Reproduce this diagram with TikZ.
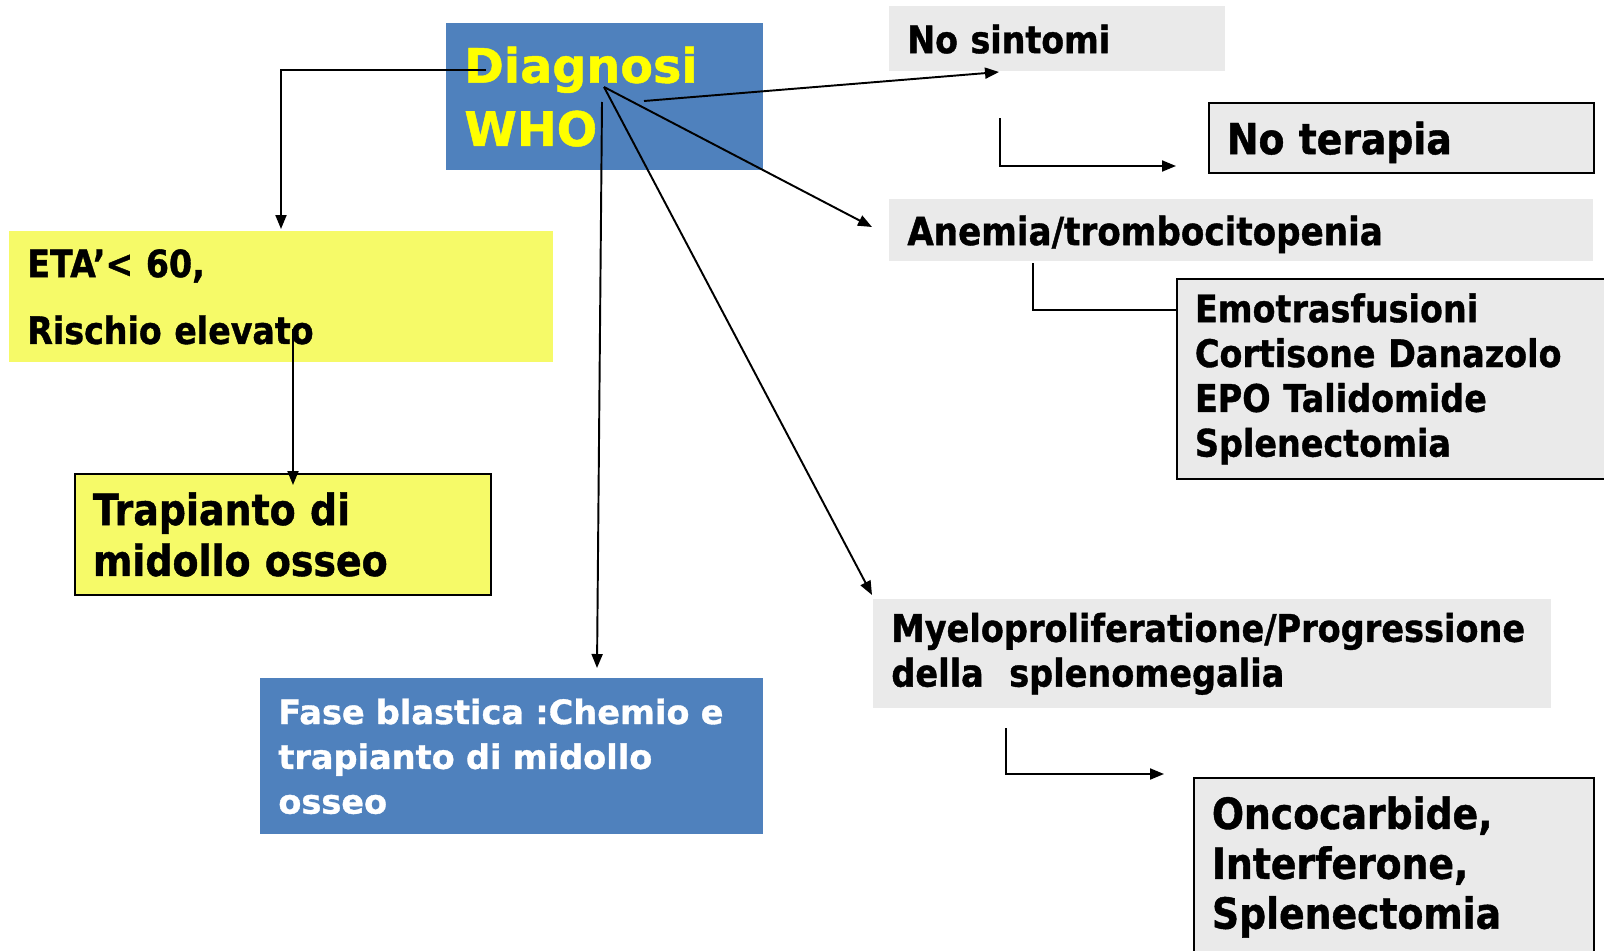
\documentclass[tikz,border=0pt]{standalone}
\usepackage{fontspec}
\setmainfont{DejaVu Sans}
\newfontfamily\narrowsans[FakeStretch=0.88,FakeBold=1]{DejaVu Sans}
\newfontfamily\widesans[FakeBold=1]{DejaVu Sans}
\usetikzlibrary{arrows.meta}

\definecolor{whoblue}{HTML}{4F81BD}
\definecolor{whoyellow}{HTML}{FFFF00}
\definecolor{boxyellow}{HTML}{F6FA68}
\definecolor{boxgray}{HTML}{EAEAEA}

\tikzset{
  box/.style={anchor=north west, inner xsep=0.36cm, inner ysep=0pt, align=left},
  oneline/.style={text depth=0pt},
  framed/.style={draw=black, line width=1.1pt},
  arr/.style={line width=1.1pt, -{Triangle[length=0.28cm,width=0.22cm]}},
  link/.style={line width=1.1pt},
}

\begin{document}
\begin{tikzpicture}[x=0.02cm,y=-0.02cm]
\useasboundingbox (0,0) rectangle (1604,950);

% Draw the boxes
\node[box,fill=whoblue,text=whoyellow,minimum width=6.34cm,minimum height=2.95cm,text width=5.62cm,
  font=\widesans\fontsize{27.1}{36}\selectfont\bfseries] (diag) at (446,22.5) {Diagnosi\\WHO};
\node[box,oneline,fill=boxgray,minimum width=6.72cm,minimum height=1.3cm,text width=6cm,
  font=\narrowsans\fontsize{21.5}{25.5}\selectfont\bfseries] (nosint) at (889,6) {No sintomi};
\node[box,oneline,framed,fill=boxgray,minimum width=7.7cm,minimum height=1.4cm,text width=6.98cm,
  font=\narrowsans\fontsize{24.4}{28.4}\selectfont\bfseries] (noter) at (1208,102) {No terapia};
\node[box,oneline,fill=boxgray,minimum width=14.08cm,minimum height=1.24cm,text width=13.36cm,
  font=\narrowsans\fontsize{22.1}{25.5}\selectfont\bfseries] (anemia) at (889,199) {Anemia/trombocitopenia};
\node[box,framed,fill=boxgray,minimum width=8.88cm,minimum height=4cm,text width=8.16cm,
  font=\narrowsans\fontsize{21.6}{25.5}\selectfont\bfseries] (emotr) at (1176,278)
  {Emotrasfusioni\\Cortisone Danazolo\\EPO Talidomide\\Splenectomia};
\node[box,fill=boxyellow,minimum width=10.88cm,minimum height=2.62cm,text width=10.16cm,
  font=\narrowsans\fontsize{21.5}{38}\selectfont\bfseries] (eta) at (9,231) {ETA’< 60,\\Rischio elevato};
\node[box,framed,fill=boxyellow,minimum width=8.32cm,minimum height=2.42cm,text width=7.6cm,
  font=\narrowsans\fontsize{24.5}{29}\selectfont\bfseries] (trap) at (74,473) {Trapianto di\\midollo osseo};
\node[box,fill=whoblue,text=white,minimum width=10.06cm,minimum height=3.12cm,text width=9.34cm,
  font=\widesans\fontsize{19.1}{25.5}\selectfont\bfseries] (fase) at (260,678)
  {Fase blastica :Chemio e\\trapianto di midollo\\osseo};
\node[box,fill=boxgray,minimum width=13.56cm,minimum height=2.18cm,text width=12.84cm,
  font=\narrowsans\fontsize{21.7}{25.5}\selectfont\bfseries] (myelo) at (873,599)
  {Myeloproliferatione/Progressione\\della\ \ splenomegalia};
\node[box,framed,fill=boxgray,minimum width=8cm,minimum height=3.56cm,text width=7.28cm,
  font=\narrowsans\fontsize{24.4}{28.4}\selectfont\bfseries] (onco) at (1193,777)
  {Oncocarbide,\\Interferone,\\Splenectomia};

% Connector ends
\coordinate (diagl) at (486,70);
\coordinate (diagr) at (644,101);
\coordinate (diagd) at (602,102);
\coordinate (hub) at (604,87);
\coordinate (etain) at (281,229);
\coordinate (nosintin) at (999,72);
\coordinate (anemiain) at (872,227);
\coordinate (myeloin) at (872,595);
\coordinate (fasein) at (597,668);
\coordinate (rischio) at (293,329);
\coordinate (trapin) at (293,485);
\coordinate (nosintout) at (1000,118);
\coordinate (noterin) at (1176,166);
\coordinate (anemiaout) at (1033,263);
\coordinate (emotrin) at (1176,310);
\coordinate (myeloout) at (1006,728);
\coordinate (oncoin) at (1164,774);

% Draw the arrows
\draw[arr] (diagl) -| (etain);
\draw[arr] (diagr) -- (nosintin);
\draw[arr] (hub) -- (anemiain);
\draw[arr] (hub) -- (myeloin);
\draw[arr] (diagd) -- (fasein);
\draw[arr] (rischio) -- (trapin);
\draw[arr] (nosintout) |- (noterin);
\draw[link] (anemiaout) |- (emotrin);
\draw[arr] (myeloout) |- (oncoin);

\end{tikzpicture}
\end{document}
